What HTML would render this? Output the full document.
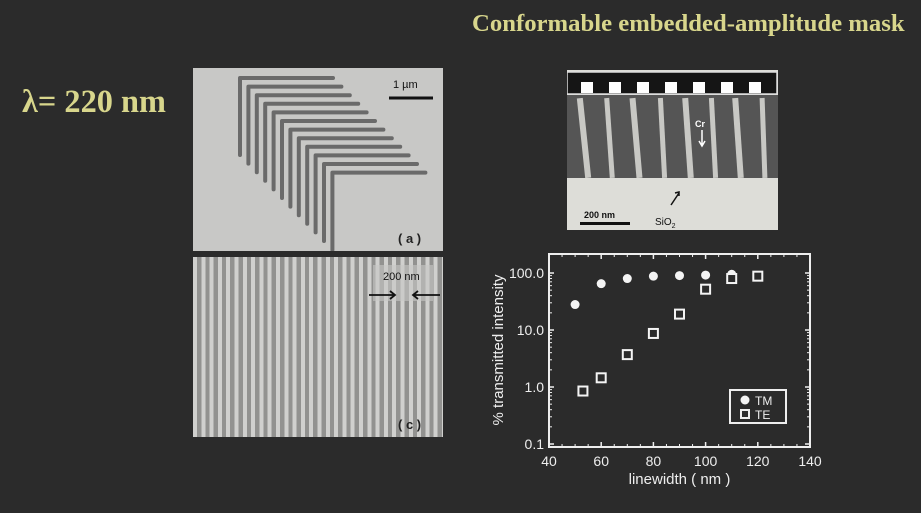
<!DOCTYPE html>
<html><head><meta charset="utf-8"><style>
html,body{margin:0;padding:0}
body{width:921px;height:513px;background:#2b2b2b;position:relative;overflow:hidden;font-family:"Liberation Sans",sans-serif}
.t{position:absolute;color:#d8d68c;font-family:"Liberation Serif",serif;font-weight:bold;white-space:nowrap;transform-origin:0 0}
</style></head><body>
<div class="t" style="left:472px;top:11px;font-size:24px;transform:scaleX(1.03)">Conformable embedded-amplitude mask</div>
<div class="t" style="left:22px;top:84px;font-size:33px;transform:scaleX(0.98)">λ= 220 nm</div>

<svg style="position:absolute;left:193px;top:68px" width="250" height="183">
<rect width="250" height="183" fill="#c8c8c6"/>
<g id="ls" stroke="#6a6a6a" stroke-width="4" fill="none" stroke-linecap="round" stroke-linejoin="round"></g>
<line x1="196" y1="30" x2="240" y2="30" stroke="#111" stroke-width="3"/>
<text x="200" y="20" font-size="11" fill="#111" font-family="Liberation Sans">1 µm</text>
<text x="205" y="175" font-size="13" font-weight="bold" fill="#222" font-family="Liberation Sans">( a )</text>
</svg>
<div style="position:absolute;left:193px;top:257px;width:250px;height:180px;background:repeating-linear-gradient(90deg,#d0d0ce 0,#d0d0ce 4px,#929290 4px,#929290 8.3px)"></div>
<svg style="position:absolute;left:193px;top:257px" width="250" height="180">
<rect x="180" y="8" width="60" height="36" fill="#c8c8c6" opacity="0.6"/>
<text x="190" y="23" font-size="11" fill="#111">200 nm</text>
<path d="M176 38h26m-5-4l5 4-5 4M247 38h-27m5-4l-5 4 5 4" stroke="#111" stroke-width="1.8" fill="none"/>
<text x="205" y="172" font-size="13" font-weight="bold" fill="#222">( c )</text>
</svg>

<svg style="position:absolute;left:567px;top:70px" width="211" height="160">
<rect width="211" height="160" fill="#ddddd8"/>
<rect x="0" y="25" width="211" height="83" fill="#555"/>
<g fill="#c8c8c4">
<rect x="14" y="28" width="6" height="80" transform="rotate(-6 17 68)"/><rect x="40" y="28" width="5" height="80" transform="rotate(-4 42 68)"/><rect x="66" y="28" width="6" height="80" transform="rotate(-5 69 68)"/><rect x="93" y="28" width="5" height="80" transform="rotate(-3 95 68)"/><rect x="118" y="28" width="6" height="80" transform="rotate(-4 121 68)"/><rect x="144" y="28" width="5" height="80" transform="rotate(-3 146 68)"/><rect x="168" y="28" width="6" height="80" transform="rotate(-4 171 68)"/><rect x="194" y="28" width="5" height="80" transform="rotate(-2 196 68)"/>
</g>
<rect x="0" y="2" width="210" height="22" fill="#151515" stroke="#ddd" stroke-width="1.5"/>
<g fill="#fff"><rect x="14" y="12" width="12" height="11"/><rect x="42" y="12" width="12" height="11"/><rect x="70" y="12" width="12" height="11"/><rect x="98" y="12" width="12" height="11"/><rect x="126" y="12" width="12" height="11"/><rect x="154" y="12" width="12" height="11"/><rect x="182" y="12" width="12" height="11"/></g>
<text x="128" y="57" font-size="9" fill="#fff" font-weight="bold">Cr</text>
<path d="M135 60v15m-3-4l3 5 3-5" stroke="#fff" stroke-width="1.5" fill="none"/>
<path d="M104 135l8-12m-4 0l4-1 0 4" stroke="#111" stroke-width="1.5" fill="none"/>
<text x="88" y="155" font-size="10" fill="#111">SiO<tspan font-size="7" dy="3">2</tspan></text>
<text x="17" y="148" font-size="9" fill="#111" font-weight="bold">200 nm</text>
<rect x="13" y="152" width="50" height="3" fill="#111"/>
</svg>

<svg id="chart" style="position:absolute;left:0;top:0" width="921" height="513" font-family="Liberation Sans"></svg>

<script>
var ls=document.getElementById('ls'),p='';
for(var i=0;i<12;i++){var cx=47+i*8.4,cy=10+i*8.6;p+='M'+(cx+93)+' '+cy+'H'+cx+'V'+(i==11?182:cy+77);}
var pe=document.createElementNS('http://www.w3.org/2000/svg','path');pe.setAttribute('d',p);ls.appendChild(pe);

var tmX=[50,60,70,80,90,100,110];
var tmY=[28,65,80,88,90,92,95];
var teX=[53,60,70,80,90,100,110,120];
var teY=[0.85,1.45,3.7,8.7,19,52,80,88];
var xTicks=[40,60,80,100,120,140];
var yTicks=[0.1,1,10,100];
var yTickLabels=['0.1','1.0','10.0','100.0'];

var NS='http://www.w3.org/2000/svg',svg=document.getElementById('chart');
var L=549,R=810,T=254,B=447;
function sx(v){return L+(v-40)/100*(R-L);}
function sy(v){return 444-(Math.log10(v)+1)*57;}
function el(t,a){var e=document.createElementNS(NS,t);for(var k in a)e.setAttribute(k,a[k]);svg.appendChild(e);return e;}
var fr=el('rect',{x:L,y:T,width:R-L,height:B-T,fill:'none',stroke:'#eee','stroke-width':2});


xTicks.forEach(function(v){var x=sx(v);
 el('line',{x1:x,y1:B,x2:x,y2:B-5,stroke:'#eee','stroke-width':1.5});el('line',{x1:x,y1:T,x2:x,y2:T+5,stroke:'#eee','stroke-width':1.5});
 var t=el('text',{x:x,y:B+19,'font-size':14,fill:'#eee','text-anchor':'middle'});t.textContent=v;
 
 });
for(var v=45;v<140;v+=5){if(v%20==0)continue;var x=sx(v);el('line',{x1:x,y1:B,x2:x,y2:B-3,stroke:'#eee'});el('line',{x1:x,y1:T,x2:x,y2:T+3,stroke:'#eee'});}
yTicks.forEach(function(v,i){var y=sy(v);
 el('line',{x1:L,y1:y,x2:L+5,y2:y,stroke:'#eee','stroke-width':1.5});el('line',{x1:R,y1:y,x2:R-5,y2:y,stroke:'#eee','stroke-width':1.5});
 var t=el('text',{x:L-5,y:y+5,'font-size':14,fill:'#eee','text-anchor':'end'});t.textContent=yTickLabels[i];
 
 
 for(var m=2;m<10&&v<100;m++){var yy=sy(v*m);el('line',{x1:L,y1:yy,x2:L+3,y2:yy,stroke:'#eee'});el('line',{x1:R,y1:yy,x2:R-3,y2:yy,stroke:'#eee'});}});
var xl=el('text',{x:(L+R)/2,y:484,'font-size':15,fill:'#eee','text-anchor':'middle'});xl.textContent='linewidth  ( nm )';


var yl=el('text',{x:0,y:0,'font-size':15,fill:'#eee','text-anchor':'middle',transform:'translate(503,350) rotate(-90)'});yl.textContent='% transmitted intensity';


tmX.forEach(function(x,i){var c=el('circle',{cx:sx(x),cy:sy(tmY[i]),r:4.5,fill:'#f4f4f4'});
 
 });
teX.forEach(function(x,i){var r=el('rect',{x:sx(x)-4.5,y:sy(teY[i])-4.5,width:9,height:9,fill:'#2b2b2b',stroke:'#f4f4f4','stroke-width':2});
 
 });
var lg=el('rect',{x:730,y:390,width:56,height:33,fill:'none',stroke:'#eee','stroke-width':2});


el('circle',{cx:745,cy:400,r:4.5,fill:'#f4f4f4'});
var t1=el('text',{x:755,y:405,'font-size':12,fill:'#eee'});t1.textContent='TM';


el('rect',{x:741,y:410,width:8,height:8,fill:'none',stroke:'#eee','stroke-width':2});
var t2=el('text',{x:755,y:419,'font-size':12,fill:'#eee'});t2.textContent='TE';


</script>
</body></html>
